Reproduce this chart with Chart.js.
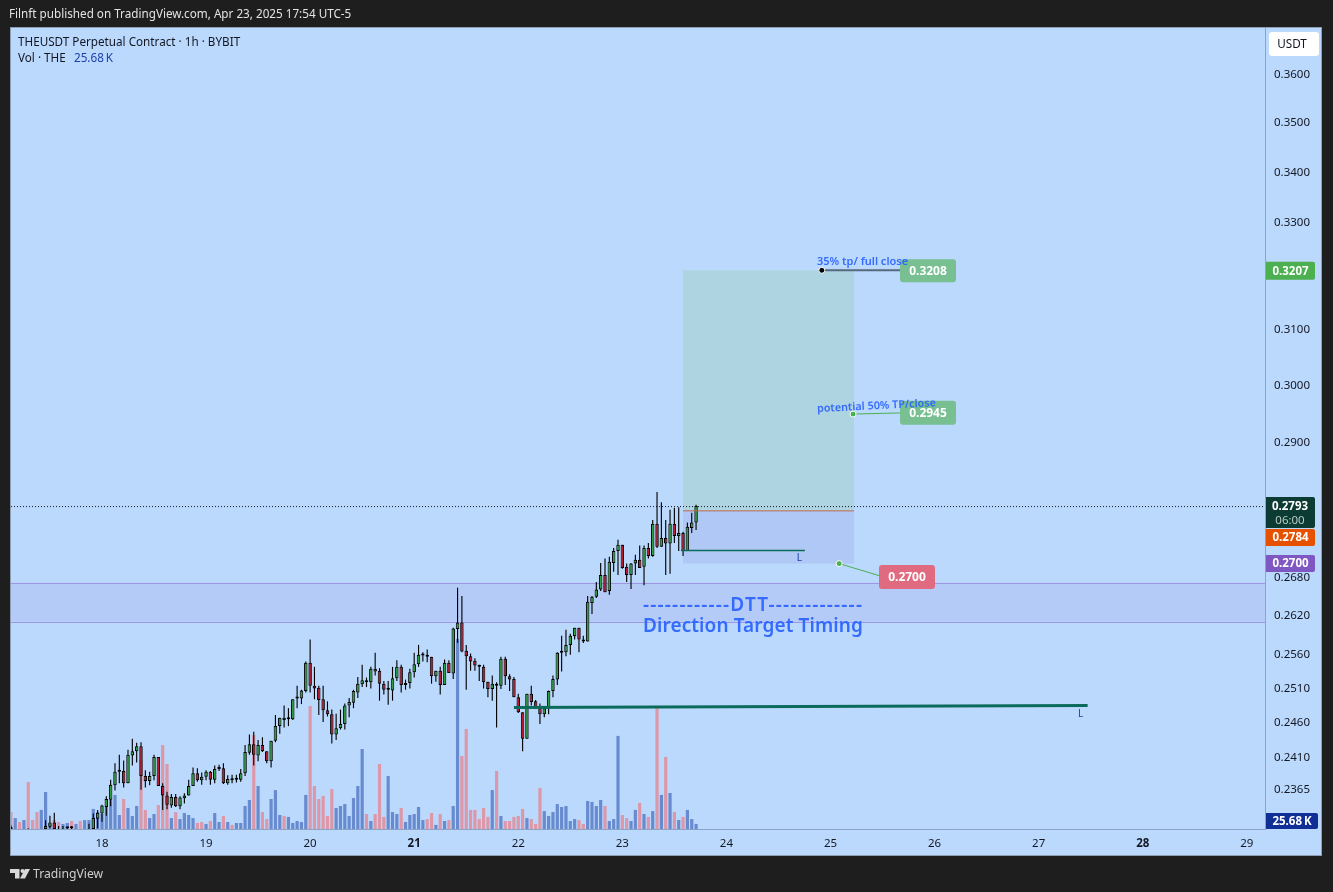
<!DOCTYPE html>
<html>
<head>
<meta charset="utf-8">
<title>THEUSDT Perpetual Contract</title>
<script src="https://cdn.jsdelivr.net/npm/chart.js@4/dist/chart.umd.min.js"></script>
<style>
  html, body { margin: 0; padding: 0; background: #1e1e1e; overflow: hidden; }
  canvas { display: block; }
</style>
</head>
<body>
<canvas id="chart" width="1333" height="892"></canvas>
<script>
// Hours are counted from Apr 18 00:00, first bar is 21h before that
const firstHour = -21;
const dayTicks = [0, 24, 48, 72, 96, 120, 144, 168, 192, 216, 240, 264];
const dayLabels = ['18', '19', '20', '21', '22', '23', '24', '25', '26', '27', '28', '29'];
const boldDays = ['21', '28'];
const priceTicks = [0.36, 0.35, 0.34, 0.33, 0.31, 0.30, 0.29, 0.28, 0.268, 0.262, 0.256, 0.251, 0.246, 0.241, 0.2365];

const opens = [
  .2300, null, null, null, .2300, null, null, null, .2310, .2313, .2319, .2305, .2303, .2311, .2311, null, null, null, .2309,
  .2310, .2324, .2331, .2340, .2350, .2370, .2389, .2390, .2373, .2412,
  .2418, .2425, .2383, .2376, .2383, .2410, .2369, .2356, .2342, .2354,
  .2341, .2352, .2356, .2369, .2387, .2377, .2382, .2389, .2378, .2393,
  .2394, .2373, .2377, .2378, .2378, .2387, .2416, .2428, .2412, .2427,
  .2418, .2404, .2433, .2454, .2463, .2464, .2464, .2494, .2494, .2505,
  .2547, .2513, .2510, .2493, .2477, .2471, .2442, .2451, .2457, .2484,
  .2488, .2503, .2515, .2518, .2518, .2538, .2535, .2516, .2507, .2506,
  .2524, .2541, .2514, .2517, .2533, .2545, .2558, .2559, .2556, .2527,
  .2535, .2514, .2547, .2531, .2598, .2608, .2565, .2557, .2550, .2544,
  .2541, .2519, .2508, .2516, .2513, .2553, .2527, .2523, .2496, .2474,
  .2436, .2501, .2490, .2480, .2471, .2480, .2505, .2522, .2562, .2563,
  .2574, .2587, .2600, .2582, .2579, .2638, .2648, .2659, .2682, .2657,
  .2701, .2720, .2730, .2695, .2682, .2700, .2706, .2695, .2725, .2712,
  .2764, .2727, .2741, .2732, .2764, .2744, .2749, .2720, .2757, .2766
];
const closes = [
  .2298, null, null, null, .2305, null, null, null, .2314, .2319, .2310, .2302, .2306, .2312, .2312, null, null, null, .2305,
  .2325, .2332, .2342, .2351, .2371, .2389, .2390, .2373, .2413, .2418,
  .2425, .2383, .2376, .2383, .2410, .2369, .2356, .2343, .2354, .2341,
  .2353, .2356, .2369, .2387, .2377, .2382, .2389, .2378, .2393, .2394,
  .2373, .2379, .2378, .2379, .2387, .2417, .2428, .2413, .2427, .2418,
  .2404, .2433, .2454, .2466, .2466, .2465, .2493, .2495, .2506, .2547,
  .2513, .2509, .2492, .2477, .2471, .2442, .2451, .2457, .2484, .2489,
  .2505, .2516, .2521, .2521, .2538, .2534, .2516, .2507, .2508, .2524,
  .2541, .2514, .2517, .2533, .2545, .2559, .2559, .2556, .2527, .2535,
  .2514, .2547, .2532, .2599, .2608, .2564, .2557, .2549, .2543, .2541,
  .2518, .2508, .2516, .2513, .2553, .2527, .2522, .2496, .2474, .2436,
  .2501, .2489, .2479, .2471, .2480, .2505, .2523, .2562, .2563, .2574,
  .2588, .2600, .2582, .2579, .2640, .2648, .2659, .2682, .2655, .2703,
  .2720, .2730, .2693, .2682, .2700, .2706, .2693, .2725, .2712, .2764,
  .2727, .2741, .2732, .2764, .2744, .2749, .2720, .2759, .2766, .2793
];
const highs = [
  .2315, null, null, null, .2311, null, null, null, .2322, .2328, .2332, .2314, .2314, .2312, .2314, null, null, null, .2317,
  .2331, .2336, .2343, .2355, .2378, .2401, .2413, .2405, .2420, .2436,
  .2430, .2431, .2391, .2389, .2413, .2410, .2373, .2361, .2358, .2358,
  .2355, .2359, .2378, .2395, .2394, .2388, .2391, .2390, .2398, .2399,
  .2401, .2384, .2385, .2385, .2393, .2427, .2442, .2446, .2434, .2438,
  .2418, .2433, .2470, .2466, .2484, .2480, .2493, .2513, .2507, .2549,
  .2582, .2541, .2513, .2513, .2490, .2478, .2472, .2478, .2487, .2495,
  .2507, .2526, .2544, .2525, .2541, .2562, .2539, .2520, .2520, .2541,
  .2551, .2544, .2522, .2538, .2562, .2574, .2563, .2567, .2556, .2535,
  .2541, .2552, .2551, .2600, .2662, .2649, .2574, .2561, .2554, .2544,
  .2544, .2519, .2528, .2518, .2556, .2556, .2530, .2526, .2501, .2474,
  .2501, .2513, .2492, .2487, .2480, .2506, .2528, .2563, .2588, .2597,
  .2591, .2600, .2600, .2588, .2649, .2649, .2671, .2701, .2708, .2711,
  .2725, .2738, .2730, .2700, .2701, .2714, .2729, .2729, .2733, .2770,
  .2816, .2799, .2770, .2787, .2790, .2791, .2751, .2766, .2782, .2795
];
const lows = [
  .2295, null, null, null, .2295, null, null, null, .2305, .2311, .2305, .2300, .2300, .2310, .2308, null, null, null, .2300,
  .2310, .2311, .2320, .2328, .2341, .2363, .2373, .2367, .2373, .2398,
  .2402, .2364, .2367, .2370, .2377, .2369, .2336, .2337, .2339, .2340,
  .2337, .2345, .2356, .2369, .2375, .2371, .2377, .2371, .2373, .2390,
  .2372, .2371, .2373, .2374, .2375, .2383, .2413, .2398, .2404, .2417,
  .2401, .2395, .2431, .2443, .2452, .2454, .2463, .2480, .2486, .2503,
  .2503, .2493, .2470, .2460, .2468, .2429, .2434, .2449, .2449, .2467,
  .2480, .2495, .2511, .2511, .2509, .2528, .2491, .2500, .2485, .2491,
  .2520, .2503, .2507, .2509, .2525, .2541, .2549, .2548, .2516, .2519,
  .2500, .2514, .2532, .2523, .2577, .2563, .2507, .2535, .2535, .2520,
  .2509, .2496, .2491, .2452, .2508, .2514, .2505, .2496, .2473, .2418,
  .2436, .2484, .2479, .2457, .2467, .2471, .2496, .2514, .2534, .2557,
  .2559, .2582, .2563, .2577, .2579, .2621, .2646, .2657, .2655, .2651,
  .2687, .2682, .2692, .2671, .2660, .2682, .2693, .2666, .2708, .2711,
  .2725, .2727, .2682, .2684, .2733, .2720, .2712, .2720, .2749, .2754
];
// volume in thousands
const volumes = [
  87, 56, 36, 46, 241, 46, 87, 98, 190, 26, 46, 36, 26, 31, 41, 26, 41, 46, 46, 103,
  87, 77, 113, 149, 175, 72, 154, 108, 67, 118, 355, 98, 56, 77, 123, 431, 334, 56, 87, 51,
  82, 72, 56, 31, 36, 26, 41, 82, 36, 67, 36, 21, 31, 31, 118, 149, 483, 221, 87, 51,
  154, 200, 72, 67, 62, 31, 41, 36, 175, 632, 221, 154, 170, 67, 205, 108, 118, 128, 67,
  159, 221, 411, 77, 41, 77, 334, 62, 272, 87, 77, 108, 36, 72, 77, 113, 46, 51, 82, 21,
  77, 41, 46, 118, 976, 375, 514, 98, 98, 51, 108, 62, 200, 298, 67, 41, 41, 62, 67, 103,
  56, 51, 26, 211, 92, 67, 87, 128, 113, 118, 41, 51, 46, 26, 144, 139, 118, 149, 118, 41,
  51, 478, 72, 56, 41, 98, 134, 77, 62, 92, 627, 175, 370, 185, 87, 46, 62, 98, 51, 26
];
// 1 = falling bar (pink), 0 = rising bar (blue)
const volumeFalling = [
  1, 0, 1, 0, 1, 1, 1, 0, 0, 0, 1, 1, 0, 0, 1, 0, 1, 0, 0, 0,
  0, 0, 0, 0, 0, 0, 1, 0, 0, 0, 1, 1, 0, 0, 1, 1, 1, 0, 1, 0,
  0, 0, 0, 1, 1, 0, 1, 0, 0, 1, 0, 1, 0, 0, 0, 0, 1, 0, 1, 1,
  0, 0, 0, 1, 0, 0, 0, 0, 0, 1, 1, 1, 1, 1, 1, 0, 0, 0, 0,
  0, 0, 0, 1, 0, 1, 1, 1, 0, 0, 0, 1, 0, 0, 0, 0, 0, 1, 1, 0,
  1, 0, 1, 0, 0, 1, 1, 1, 1, 1, 1, 1, 0, 1, 0, 1, 1, 1, 1, 1,
  0, 1, 1, 1, 0, 0, 0, 0, 0, 0, 0, 0, 1, 1, 0, 0, 0, 0, 1, 0,
  0, 0, 1, 1, 0, 0, 1, 0, 1, 0, 1, 0, 1, 0, 1, 0, 1, 0, 0, 0
];

// Drawings on the chart, [hour, price]
const zoneTop = 0.2670;
const zoneBottom = 0.2609;
const lastPrice = 0.2792;
const positionStart = 134;
const positionEnd = 173.4;
const positionEntry = 0.2785;
const positionTarget = 0.3208;
const positionStop = 0.2700;
const targetLine = [[166, 0.3208], [185, 0.3208]];
const tpLine = [[173.2, 0.2948], [184, 0.2950]];
const stopLine = [[170, 0.2700], [179.2, 0.2681]];
const liquidityShort = [[133.5, 0.2721], [162.1, 0.2721]];
const liquidityLong = [[95, 0.2481], [227.3, 0.2484]];

const priceMax = 0.3699;
const priceMin = 0.2310;
const hourMin = -20.98;
const hourMax = 268.2;
const volumeMax = 4114;

const INK = '#131722';
const UI_FONT = '"Noto Sans"';

const candleRows = opens.map((o, i) => ({ x: firstHour + i, o, h: highs[i], l: lows[i], c: closes[i] }))
  .filter(r => r.o !== null);

function seg(points) {
  return points.map(p => ({ x: p[0], y: p[1] }));
}

function lineSet(points, color, width, extra) {
  return Object.assign({
    type: 'line',
    data: seg(points),
    xAxisID: 'x',
    yAxisID: 'y',
    borderColor: color,
    borderWidth: width,
    pointRadius: 0,
    order: 1
  }, extra || {});
}

function tag(ctx, x, y, w, h, color, text, radius) {
  ctx.fillStyle = color;
  ctx.beginPath();
  ctx.roundRect(x, y, w, h, radius);
  ctx.fill();
  ctx.fillStyle = '#ffffff';
  ctx.textAlign = 'center';
  ctx.textBaseline = 'middle';
  ctx.fillText(text, x + w / 2, y + h / 2 + 0.5);
}

const sheetPlugin = {
  id: 'sheet',
  beforeDraw(chart) {
    const ctx = chart.ctx;
    ctx.save();
    ctx.fillStyle = '#1e1e1e';
    ctx.fillRect(0, 0, 1333, 892);
    ctx.fillStyle = '#bbd9fd';
    ctx.fillRect(10, 27, 1312, 829);
    ctx.strokeStyle = '#8b9cb3';
    ctx.lineWidth = 1;
    ctx.strokeRect(10.5, 27.5, 1311, 828);
    ctx.restore();
  },
  beforeDatasetsDraw(chart) {
    const ctx = chart.ctx;
    const xs = chart.scales.x;
    const ys = chart.scales.y;
    const area = chart.chartArea;
    ctx.save();
    // DTT zone
    const zt = ys.getPixelForValue(zoneTop);
    const zb = ys.getPixelForValue(zoneBottom);
    ctx.fillStyle = 'rgba(126, 87, 194, 0.10)';
    ctx.fillRect(area.left, zt, area.right - area.left, zb - zt);
    ctx.fillStyle = '#a097e3';
    ctx.fillRect(area.left, Math.round(zt), area.right - area.left, 1);
    ctx.fillRect(area.left, Math.round(zb), area.right - area.left, 1);
    // Long position box
    const px0 = xs.getPixelForValue(positionStart);
    const px1 = xs.getPixelForValue(positionEnd);
    const pe = ys.getPixelForValue(positionEntry);
    const pt = ys.getPixelForValue(positionTarget);
    const ps = ys.getPixelForValue(positionStop);
    ctx.fillStyle = 'rgba(160, 205, 190, 0.45)';
    ctx.fillRect(px0, pt, px1 - px0, pe - pt);
    ctx.fillStyle = 'rgba(126, 120, 210, 0.18)';
    ctx.fillRect(px0, pe, px1 - px0, ps - pe);
    ctx.restore();
  },
  afterDatasetsDraw(chart) {
    const ctx = chart.ctx;
    const xs = chart.scales.x;
    const ys = chart.scales.y;
    ctx.save();
    // Labels on the position box
    ctx.font = 'bold 12px ' + UI_FONT;
    tag(ctx, 900, ys.getPixelForValue(0.3208) - 11, 56, 23, '#78bf92', '0.3208', 3);
    tag(ctx, 900, ys.getPixelForValue(0.2945) - 15, 56, 24, '#78bf92', '0.2945', 3);
    tag(ctx, 879, 565, 56, 24, '#e06b80', '0.2700', 3);
    // Text drawings, these sit on top of the labels
    ctx.fillStyle = 'rgba(41, 98, 255, 0.92)';
    ctx.textBaseline = 'middle';
    ctx.textAlign = 'left';
    ctx.font = '600 11px ' + UI_FONT;
    ctx.fillText('35% tp/ full close', 817, ys.getPixelForValue(positionTarget) - 8.5);
    ctx.save();
    ctx.translate(817, 409);
    ctx.rotate(-0.05);
    ctx.font = '600 10.8px ' + UI_FONT;
    ctx.fillText('potential 50% TP/close', 0, 0);
    ctx.restore();
    ctx.font = '600 19px ' + UI_FONT;
    ctx.letterSpacing = '1.2px';
    ctx.fillText('------------DTT-------------', 643, 606);
    ctx.letterSpacing = '0.1px';
    ctx.fillText('Direction Target Timing', 643, 627);
    ctx.letterSpacing = '0px';
    ctx.font = '10px ' + UI_FONT;
    ctx.fillStyle = '#1a3fa8';
    ctx.textAlign = 'center';
    ctx.fillText('L', xs.getPixelForValue(160.8), ys.getPixelForValue(liquidityShort[0][1]) + 8);
    ctx.fillText('L', xs.getPixelForValue(225.7), ys.getPixelForValue(liquidityLong[1][1]) + 9);
    ctx.restore();
  },
  afterDraw(chart) {
    const ctx = chart.ctx;
    const ys = chart.scales.y;
    const ax = chart.chartArea.right;
    ctx.save();
    // Page header
    ctx.textBaseline = 'middle';
    ctx.textAlign = 'left';
    ctx.fillStyle = '#e3e3e3';
    ctx.font = '11.7px ' + UI_FONT;
    ctx.fillText('Filnft published on TradingView.com, Apr 23, 2025 17:54 UTC-5', 9, 14.5);
    // Legend
    ctx.fillStyle = INK;
    ctx.font = '11.7px ' + UI_FONT;
    ctx.fillText('THEUSDT Perpetual Contract \u00b7 1h \u00b7 BYBIT', 18, 42.5);
    ctx.fillText('Vol \u00b7 THE', 18, 59);
    ctx.fillStyle = '#1e3fa8';
    ctx.fillText('25.68\u2009K', 74, 59);
    // Currency button
    ctx.fillStyle = '#ffffff';
    ctx.beginPath();
    ctx.roundRect(1269, 32, 50, 24, 3);
    ctx.fill();
    ctx.fillStyle = INK;
    ctx.textAlign = 'center';
    ctx.fillText('USDT', 1292, 44.5);
    // Price scale tags
    ctx.font = 'bold 11.5px ' + UI_FONT;
    tag(ctx, ax + 1, ys.getPixelForValue(0.3207) - 9, 49, 18, '#4caf50', '0.3207', [0, 2, 2, 0]);
    ctx.fillStyle = '#0b3b33';
    ctx.beginPath();
    ctx.roundRect(ax + 1, 497, 49, 31, [0, 2, 2, 0]);
    ctx.fill();
    ctx.fillStyle = '#ffffff';
    ctx.fillText('0.2793', ax + 25, 507);
    ctx.fillStyle = '#b9c9c4';
    ctx.font = '11.5px ' + UI_FONT;
    ctx.fillText('06:00', ax + 25, 521);
    ctx.font = 'bold 11.5px ' + UI_FONT;
    tag(ctx, ax + 1, 529, 49, 17, '#e65100', '0.2784', [0, 2, 2, 0]);
    tag(ctx, ax + 1, 555, 49, 17, '#7e57c2', '0.2700', [0, 2, 2, 0]);
    tag(ctx, ax + 1, 813, 52, 16, '#0f2f96', '25.68\u2009K', [0, 2, 2, 0]);
    // TradingView footer
    ctx.fillStyle = '#d8d8d8';
    ctx.beginPath();
    ctx.moveTo(10, 869);
    ctx.lineTo(19.5, 869);
    ctx.lineTo(19.5, 878.5);
    ctx.lineTo(15, 878.5);
    ctx.lineTo(15, 873);
    ctx.lineTo(10, 873);
    ctx.closePath();
    ctx.fill();
    ctx.beginPath();
    ctx.arc(22.5, 871, 2, 0, Math.PI * 2);
    ctx.fill();
    ctx.beginPath();
    ctx.moveTo(25, 869);
    ctx.lineTo(30, 869);
    ctx.lineTo(25, 878.5);
    ctx.lineTo(20, 878.5);
    ctx.closePath();
    ctx.fill();
    ctx.font = '12.2px ' + UI_FONT;
    ctx.textAlign = 'left';
    ctx.fillStyle = '#cfcfcf';
    ctx.fillText('TradingView', 33, 874.5);
    ctx.restore();
  }
};

const chart = new Chart(document.getElementById('chart'), {
  plugins: [sheetPlugin],
  data: {
    datasets: [
      lineSet(liquidityLong, '#0a6b5a', 3, { order: 0 }),
      lineSet(liquidityShort, '#0a6b5a', 1.5),
      lineSet([[positionStart, positionEntry], [positionEnd, positionEntry]], '#bf6a48', 1, { order: 1 }),
      lineSet(targetLine, '#56697f', 2, {
        pointRadius: [3, 0], pointBackgroundColor: '#000000', pointBorderColor: '#ffffff', pointBorderWidth: 1
      }),
      lineSet(tpLine, '#4caf50', 1, {
        pointRadius: [3, 0], pointBackgroundColor: '#4caf50', pointBorderColor: '#ffffff', pointBorderWidth: 1
      }),
      lineSet(stopLine, '#4caf50', 1, {
        pointRadius: [3, 0], pointBackgroundColor: '#4caf50', pointBorderColor: '#ffffff', pointBorderWidth: 1
      }),
      lineSet([[hourMin, lastPrice], [hourMax, lastPrice]], '#131722', 1, { borderDash: [1, 2], order: 6 }),
      {
        type: 'bar',
        label: 'Body',
        grouped: false,
        xAxisID: 'x',
        yAxisID: 'y',
        data: candleRows.map(r => ({ x: r.x, y: [r.o, r.c] })),
        backgroundColor: candleRows.map(r => (r.c >= r.o ? '#2f9e3f' : '#b8192f')),
        borderColor: '#000000',
        borderWidth: 1,
        borderSkipped: false,
        minBarLength: 2,
        barPercentage: 0.8,
        categoryPercentage: 1,
        order: 2
      },
      {
        type: 'bar',
        label: 'Wick',
        grouped: false,
        xAxisID: 'x',
        yAxisID: 'y',
        data: candleRows.map(r => ({ x: r.x, y: [r.l, r.h] })),
        backgroundColor: '#000000',
        barPercentage: 0.26,
        categoryPercentage: 1,
        order: 3
      },
      {
        type: 'bar',
        label: 'Vol',
        grouped: false,
        xAxisID: 'x',
        yAxisID: 'yVol',
        data: volumes.map((v, i) => ({ x: firstHour + i, y: v })),
        backgroundColor: volumeFalling.map(f => (f ? '#dc98a9' : '#688bd0')),
        barPercentage: 0.74,
        categoryPercentage: 1,
        order: 5
      }
    ]
  },
  options: {
    responsive: false,
    animation: false,
    layout: { padding: { left: 11, top: 28, right: 13, bottom: 37 } },
    plugins: { legend: { display: false }, tooltip: { enabled: false } },
    scales: {
      x: {
        type: 'linear',
        offset: false,
        min: hourMin,
        max: hourMax,
        afterBuildTicks(scale) {
          scale.ticks = dayTicks.map(v => ({ value: v }));
        },
        afterFit(scale) { scale.height = 26; },
        grid: { display: false, offset: false },
        border: { display: true, color: '#8ba3c4', width: 1 },
        ticks: {
          autoSkip: false,
          maxRotation: 0,
          padding: 0,
          color: INK,
          font: ctx => ({
            family: UI_FONT,
            size: 11.5,
            weight: ctx.tick && boldDays.includes(dayLabels[dayTicks.indexOf(ctx.tick.value)]) ? 'bold' : 'normal'
          }),
          callback: value => dayLabels[dayTicks.indexOf(value)]
        }
      },
      y: {
        type: 'logarithmic',
        position: 'right',
        min: priceMin,
        max: priceMax,
        afterBuildTicks(scale) {
          scale.ticks = priceTicks.map(v => ({ value: v }));
        },
        afterFit(scale) { scale.width = 55; },
        grid: { display: false },
        border: { display: true, color: '#8ba3c4', width: 1 },
        ticks: {
          autoSkip: false,
          padding: 1,
          labelOffset: 1,
          color: INK,
          font: { family: UI_FONT, size: 11.5 },
          callback: value => Number(value).toFixed(4)
        }
      },
      yVol: {
        type: 'linear',
        display: false,
        min: 0,
        max: volumeMax
      }
    }
  }
});
</script>
</body>
</html>
